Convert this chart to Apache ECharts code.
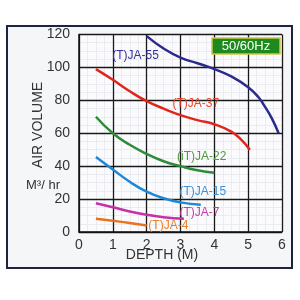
<!DOCTYPE html>
<html><head><meta charset="utf-8">
<script src="https://cdn.jsdelivr.net/npm/echarts@6/dist/echarts.min.js"></script>
<style>html,body{margin:0;padding:0;background:#fff}#c{width:300px;height:300px}</style>
</head><body><div id="c"></div>
<script>
const xTicks = [0,1,2,3,4,5,6];
const yTicks = [0,20,40,60,80,100,120];
const ja55 = [[2.0,119],[2.5,111.5],[3.0,106],[3.5,102.5],[4.0,99],[4.5,94.5],[5.0,88],[5.3,82],[5.5,76],[5.7,69],[5.9,60]];
const ja37 = [[0.5,99],[1.0,92.5],[1.5,85.5],[2.0,79.5],[2.5,75],[3.0,71],[3.5,68],[4.0,65.5],[4.5,61],[4.8,56],[5.05,50]];
const ja22 = [[0.5,70],[1.0,60],[1.5,53],[2.0,47.5],[2.5,43],[3.0,40],[3.5,37.5],[4.0,36]];
const ja15 = [[0.5,45.5],[1.0,38],[1.5,30.5],[2.0,24.5],[2.5,20.5],[3.0,18],[3.6,16.5]];
const ja7 = [[0.5,17.5],[1.0,15],[1.5,12.5],[2.0,10.5],[2.5,9],[3.1,8]];
const ja4 = [[0.5,8],[1.0,6.8],[1.5,5.5],[2.0,4]];
const names = ['(T)JA-55','(T)JA-37','(iT)JA-22','(T)JA-15','(T)JA-7','(T)JA-4'];
const labelAt = [[0.98,107],[2.76,78],[2.9,46],[2.97,24.5],[2.97,11.7],[2.05,3.6]];
const colors = ['#2b2b8f','#e0261b','#2e8b3a','#1e88d8','#c531a8','#e8731e'];
const labelColors = ['#34349a','#e8452a','#4f9a3c','#3a8fd8','#c83aa8','#e8802a'];
const allData = [ja55,ja37,ja22,ja15,ja7,ja4];

const chart = echarts.init(document.getElementById('c'), null, {renderer:'canvas'});
const font = 'Liberation Sans, Arial, sans-serif';
const series = allData.map((d,i)=>({
  type:'line', data:d, smooth:true, symbol:'none', xAxisIndex:0, yAxisIndex:0,
  lineStyle:{color:colors[i], width:2.5, type:'solid'},
  z:5,
  markPoint:{
    symbol:'circle', symbolSize:0, silent:true,
    data:[{coord:labelAt[i], value:names[i]}],
    label:{show:true, position:'right', distance:0, formatter:names[i], color:labelColors[i], fontSize:12, fontFamily:font}
  }
}));
const minorAxis = (max, interval) => ({
  type:'value', min:0, max:max, interval:interval, z:1,
  axisLine:{show:false}, axisTick:{show:false}, axisLabel:{show:false},
  splitLine:{show:true, lineStyle:{color:'#ebecf1', width:1, type:'solid'}}
});
const majorAxis = (max, interval, margin) => ({
  type:'value', min:0, max:max, interval:interval, z:3,
  axisLine:{show:true, lineStyle:{color:'#111', width:1.5, type:'solid'}},
  axisTick:{show:false},
  axisLabel:{color:'#333', fontSize:14, fontFamily:font, margin:margin},
  splitLine:{show:true, lineStyle:{color:'#1a1a1a', width:1.3, type:'solid'}}
});
chart.setOption({
  animation:false,
  backgroundColor:'#fff',
  graphic:[
    {type:'rect', shape:{x:7,y:26,width:285,height:242}, style:{fill:'#f5f6f8', stroke:'#1e2340', lineWidth:2}, z:-10},
    {type:'text', x:38, y:125, rotation:Math.PI/2, style:{text:'AIR VOLUME', fill:'#333', font:'14px '+font, textAlign:'center', textVerticalAlign:'middle'}, z:10},
    {type:'text', x:43, y:185, style:{text:'M³/ hr', fill:'#333', font:'13px '+font, textAlign:'center', textVerticalAlign:'middle'}, z:10},
    {type:'text', x:162, y:255, style:{text:'DEPTH (M)', fill:'#333', font:'14px '+font, textAlign:'center', textVerticalAlign:'middle'}, z:10},
    {type:'rect', z:20, shape:{x:212,y:38,width:68,height:16}, style:{fill:'#1e8a1e', stroke:'#cfc64a', lineWidth:1.5}},
    {type:'text', z:21, x:246, y:46.5, style:{text:'50/60Hz', fill:'#ffffff', font:'13px '+font, textAlign:'center', textVerticalAlign:'middle'}}
  ],
  grid:{left:79, right:18, top:34.5, bottom:68, show:true, backgroundColor:'#fbfbfd', borderWidth:0},
  xAxis:[majorAxis(6,1,6), minorAxis(6,0.25)],
  yAxis:[majorAxis(120,20,9), minorAxis(120,5)],
  series:series
});
</script></body></html>
